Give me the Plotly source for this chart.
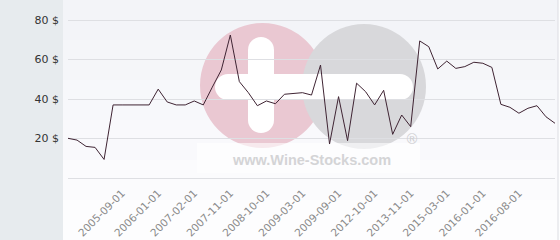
import plotly.graph_objects as go

dates = [
    "2005-03-01", "2005-04-01", "2005-05-01", "2005-06-01", "2005-07-01", "2005-08-01",
    "2005-09-01", "2005-10-01", "2005-11-01", "2005-12-01", "2006-01-01", "2006-04-01",
    "2006-07-01", "2006-10-01", "2007-02-01", "2007-04-01", "2007-06-01", "2007-09-01",
    "2007-11-01", "2008-02-01", "2008-05-01", "2008-08-01", "2008-10-01", "2008-11-01",
    "2008-12-01", "2009-01-01", "2009-03-01", "2009-04-01", "2009-06-01", "2009-07-01",
    "2009-09-01", "2010-06-01", "2011-03-01", "2011-12-01", "2012-10-01", "2013-01-01",
    "2013-05-01", "2013-08-01", "2013-11-01", "2014-03-01", "2014-07-01", "2014-11-01",
    "2015-03-01", "2015-06-01", "2015-08-01", "2015-10-01", "2016-01-01", "2016-03-01",
    "2016-04-01", "2016-06-01", "2016-08-01", "2016-10-01", "2016-12-01", "2017-02-01",
    "2017-04-01",
]
prices = [
    20.1, 19.2, 16.0, 15.5, 9.4, 37, 37, 37, 37, 37,
    45, 38.5, 37, 37, 39, 37, 46, 54.7, 72.4, 48.8,
    43.2, 36.6, 39, 37.6, 42.4, 42.7, 43.2, 42, 57.2, 17.2,
    41.2, 18.9, 48, 43.7, 37, 44.4, 22.1, 31.9, 26, 69.4,
    66.5, 55.2, 59.2, 55.5, 56.4, 58.6, 58.1, 56, 37.3, 35.8,
    32.8, 35.3, 36.6, 31, 27.7,
]
tick_labels = [
    "2005-09-01", "2006-01-01", "2007-02-01", "2007-11-01", "2008-10-01", "2009-03-01",
    "2009-09-01", "2012-10-01", "2013-11-01", "2015-03-01", "2016-01-01", "2016-08-01",
]
y_ticks = [20, 40, 60, 80]
y_tick_text = ["20 $", "40 $", "60 $", "80 $"]

W, H = 560, 240
L, R, T, B = 68, 5, 0, 62
PW, PH = W - L - R, H - T - B


def fx(px):
    return (px - L) / PW


def fy(py):
    return (H - B - py) / PH


shapes = []
# left grey panel
shapes.append(dict(type="rect", xref="paper", yref="paper", x0=fx(0), x1=fx(63), y0=fy(H), y1=fy(0),
                   fillcolor="#e7ebee", line_width=0, layer="below"))
# subtle vertical gradient in the plot panel (lighter towards bottom)
for i, col in enumerate(["#f3f4f8", "#f5f6f9", "#f7f8fb", "#f9f9fc", "#fbfbfd", "#fdfdfe"]):
    shapes.append(dict(type="rect", xref="paper", yref="paper", x0=fx(63), x1=fx(558),
                       y0=fy(40 * (i + 1)), y1=fy(40 * i),
                       fillcolor=col, line_width=0, layer="below"))
# right border line
shapes.append(dict(type="line", xref="paper", yref="paper", x0=fx(558), x1=fx(558), y0=fy(H), y1=fy(0),
                   line=dict(color="#dcdde2", width=1), layer="below"))
# watermark circles
shapes.append(dict(type="circle", xref="paper", yref="paper", x0=fx(200), x1=fx(325), y0=fy(148), y1=fy(23),
                   fillcolor="#eac8d2", line_width=0, layer="below"))
shapes.append(dict(type="circle", xref="paper", yref="paper", x0=fx(302), x1=fx(426), y0=fy(149), y1=fy(24),
                   fillcolor="#d8d8db", line_width=0, layer="below"))
# white horizontal bar (rounded)
shapes.append(dict(type="rect", xref="paper", yref="paper", x0=fx(228), x1=fx(400), y0=fy(100), y1=fy(74),
                   fillcolor="#ffffff", line_width=0, layer="below"))
shapes.append(dict(type="circle", xref="paper", yref="paper", x0=fx(215), x1=fx(241), y0=fy(100), y1=fy(74),
                   fillcolor="#ffffff", line_width=0, layer="below"))
shapes.append(dict(type="circle", xref="paper", yref="paper", x0=fx(387), x1=fx(413), y0=fy(100), y1=fy(74),
                   fillcolor="#ffffff", line_width=0, layer="below"))
# white vertical bar (rounded)
shapes.append(dict(type="rect", xref="paper", yref="paper", x0=fx(248), x1=fx(274), y0=fy(120), y1=fy(50),
                   fillcolor="#ffffff", line_width=0, layer="below"))
shapes.append(dict(type="circle", xref="paper", yref="paper", x0=fx(248), x1=fx(274), y0=fy(63), y1=fy(37),
                   fillcolor="#ffffff", line_width=0, layer="below"))
shapes.append(dict(type="circle", xref="paper", yref="paper", x0=fx(248), x1=fx(274), y0=fy(133), y1=fy(107),
                   fillcolor="#ffffff", line_width=0, layer="below"))
# light box behind watermark text
shapes.append(dict(type="rect", xref="paper", yref="paper", x0=fx(197), x1=fx(420), y0=fy(173), y1=fy(143),
                   fillcolor="rgba(255,255,255,0.6)", line_width=0, layer="below"))

fig = go.Figure()
fig.add_trace(go.Scatter(
    x=dates, y=prices, mode="lines",
    line=dict(color="#3f2433", width=1),
    hoverinfo="skip", showlegend=False,
))

fig.update_layout(
    width=W, height=H,
    margin=dict(l=L, r=R, t=T, b=B),
    paper_bgcolor="#fdfdfe",
    plot_bgcolor="rgba(0,0,0,0)",
    font=dict(family="DejaVu Sans", size=11, color="#333333"),
    shapes=shapes,
    annotations=[
        dict(text="<b>www.Wine-Stocks.com</b>", xref="paper", yref="paper", x=fx(311), y=fy(160),
             showarrow=False, font=dict(family="Liberation Sans", size=14.5, color="#d4d4d6"),
             xanchor="center", yanchor="middle"),
        dict(text="®", xref="paper", yref="paper", x=fx(412), y=fy(139),
             showarrow=False, font=dict(family="DejaVu Sans", size=14, color="#cfcfd2"),
             xanchor="center", yanchor="middle"),
    ],
    xaxis=dict(
        type="category", range=[0, len(dates) - 1],
        tickmode="array", tickvals=tick_labels, ticktext=tick_labels,
        tickangle=-45, tickfont=dict(size=10.5, color="#8a8a8a"),
        showgrid=False, zeroline=False,
        showline=True, linecolor="#dedfe3", linewidth=1,
        ticks="outside", ticklen=4, tickcolor="rgba(0,0,0,0)",
    ),
    yaxis=dict(
        range=[0, PH / (39.5 / 20)],
        tickmode="array", tickvals=y_ticks, ticktext=y_tick_text,
        showgrid=True, gridcolor="#dedfe3", gridwidth=1,
        zeroline=False, showline=False, ticks="",
        ticklabelstandoff=8,
        tickfont=dict(size=11, color="#333333"),
    ),
)

fig.write_html("out.html")
